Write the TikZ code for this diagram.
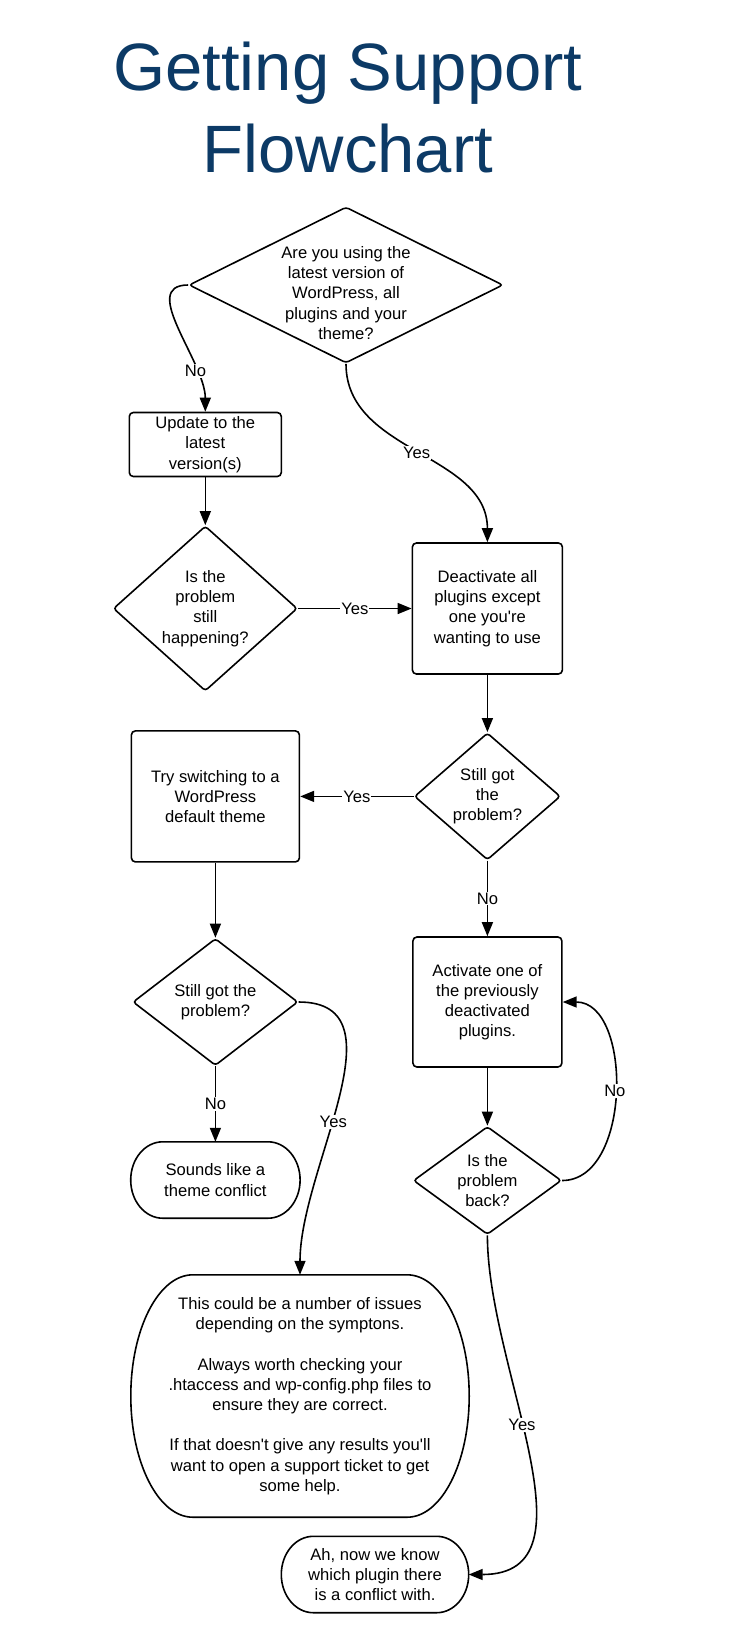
\documentclass[tikz,border=0pt]{standalone}
\usepackage{fontspec}
\setmainfont{Liberation Sans}
\usetikzlibrary{shapes.geometric,arrows.meta,calc}
\definecolor{titleblue}{RGB}{12,58,102}

% outline of a terminal: flat top and bottom, half ellipses at the ends
\newcommand{\termoutline}[2]{%
  \draw[line] let \p1=(#1.north west), \p2=(#1.south east), \n1={(\y1-\y2)/2} in
    (\x1+#2,\y1) -- (\x2-#2,\y1)
    arc[start angle=90,end angle=-90,x radius=#2,y radius=\n1]
    -- (\x1+#2,\y2)
    arc[start angle=270,end angle=90,x radius=#2,y radius=\n1] -- cycle;}
\newcommand{\apos}{\textquotesingle}

\begin{document}
\begin{tikzpicture}[x=1pt,y=1pt,
  font=\fontsize{16.6}{20.2}\selectfont,
  >={Triangle[length=14pt,width=11pt]},
  line/.style={line width=1.6pt},
  box/.style={draw,line width=1.6pt,rounded corners=4pt,inner sep=0pt,align=center},
  decision/.style={draw,diamond,line width=1.6pt,rounded corners=3pt,inner sep=0pt},
  txt/.style={align=center,inner sep=0pt},
  term/.style={inner sep=0pt,align=center},
  lbl/.style={fill=white,inner sep=1pt}]

\useasboundingbox (0,0) rectangle (732,-1650);

%title
\node[titleblue,align=center,font=\fontsize{67}{82}\selectfont] (title) at (348,-107.5) {Getting Support\\Flowchart};

%left and right columns
\node[decision,minimum width=314pt,minimum height=156pt,
  label={[txt,yshift=-8pt]center:{Are you using the\\latest version of\\WordPress, all\\plugins and your\\theme?}}] (d1) at (346,-285) {};
\node[box,minimum width=152pt,minimum height=64pt] (b1) at (205.3,-444.5) {Update to the\\latest\\version(s)};
\node[decision,minimum width=184pt,minimum height=165pt,
  label={[txt]center:{Is the\\problem\\still\\happening?}}] (d2) at (205.3,-608.5) {};
\node[box,minimum width=150pt,minimum height=131pt] (b2) at (487.4,-608.5) {Deactivate all\\plugins except\\one you\apos re\\wanting to use};
\node[decision,minimum width=146pt,minimum height=127pt,
  label={[txt]center:{Still got\\the\\problem?}}] (d3) at (487.4,-796.4) {};
\node[box,minimum width=168pt,minimum height=131pt] (b3) at (215.4,-796.4) {Try switching to a\\WordPress\\default theme};
\node[decision,minimum width=165pt,minimum height=127pt,
  label={[txt]center:{Still got the\\problem?}}] (d4) at (215.4,-1002) {};
\node[box,minimum width=149pt,minimum height=130pt] (b4) at (487.4,-1002) {Activate one of\\the previously\\deactivated\\plugins.};
\node[decision,minimum width=148pt,minimum height=108pt,
  label={[txt]center:{Is the\\problem\\back?}}] (d5) at (487.4,-1180.5) {};

%terminals
\node[term,minimum width=169pt,minimum height=76pt] (t1) at (215.4,-1180) {Sounds like a\\theme conflict};
\node[term,minimum width=338pt,minimum height=242pt] (t2) at (300,-1396) {This could be a number of issues\\depending on the symptons.\\[20.2pt]Always worth checking your\\.htaccess and wp-config.php files to\\ensure they are correct.\\[20.2pt]If that doesn\apos t give any results you\apos ll\\want to open a support ticket to get\\some help.};
\node[term,minimum width=187pt,minimum height=76pt] (t3) at (375,-1574.5) {Ah, now we know\\which plugin there\\is a conflict with.};
\termoutline{t1}{32pt}
\termoutline{t2}{62pt}
\termoutline{t3}{32pt}

%connectors
\draw[line,->] (d1.west) to[out=180,in=90] node[lbl,pos=0.75] (l1) {No} (b1.north);
\draw[line,->] (d1.south) to[out=-90,in=90] node[lbl] (l2) {Yes} (b2.north);
\draw[line,->] (b1) -- (d2);
\draw[line,->] (d2) -- node[lbl] (l3) {Yes} (b2);
\draw[line,->] (b2) -- (d3);
\draw[line,->] (d3) -- node[lbl] (l4) {Yes} (b3);
\draw[line,->] (d3) -- node[lbl] (l5) {No} (b4);
\draw[line,->] (b3) -- (d4);
\draw[line,->] (d4) -- node[lbl] (l6) {No} (t1);
\draw[line,->] (d4.east) to[out=0,in=90] node[lbl,pos=0.57] (l7) {Yes} (t2.north);
\draw[line,->] (b4) -- (d5);
\draw[line,->] (d5.east) to[out=0,in=0] node[lbl] (l8) {No} (b4.east);
\draw[line,->] (d5.south) to[out=-90,in=0] node[lbl,pos=0.43] (l9) {Yes} (t3.east);

\end{tikzpicture}
\end{document}
